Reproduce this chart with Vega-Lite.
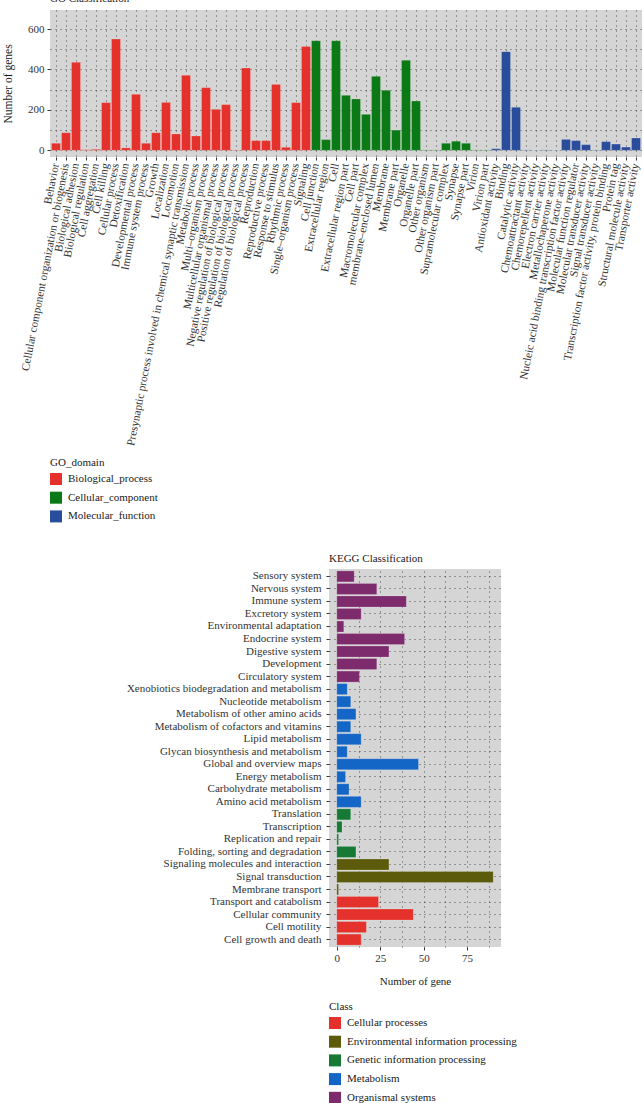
{
  "$schema": "https://vega.github.io/schema/vega-lite/v6.json",
  "padding": {"left": 2, "top": -7, "right": 0, "bottom": 0},
  "config": {
    "font": "Liberation Serif",
    "view": {"fill": "#D5D5D5", "stroke": null},
    "axis": {
      "labelFont": "Liberation Serif", "titleFont": "Liberation Serif",
      "labelColor": "#333333", "titleColor": "#1a1a1a", "titleFontWeight": "normal",
      "tickColor": "#333333", "domain": false,
      "gridColor": "#000000", "gridDash": [1, 4], "gridOpacity": 0.7, "gridWidth": 0.9
    },
    "legend": {
      "labelFont": "Liberation Serif", "titleFont": "Liberation Serif", "titleFontWeight": "normal",
      "labelFontSize": 11, "titleFontSize": 11, "labelColor": "#1a1a1a", "titleColor": "#1a1a1a",
      "symbolType": "square", "symbolSize": 144, "symbolStrokeWidth": 0,
      "rowPadding": 6.7, "titlePadding": 5, "labelOffset": 6, "labelLimit": 400
    },
    "title": {"font": "Liberation Serif", "fontWeight": "normal", "fontSize": 11, "color": "#1a1a1a", "anchor": "start", "frame": "group"}
  },
  "datasets": {
    "go": [
      {"term": "Behavior", "genes": 35, "GO_domain": "Biological_process"},
      {"term": "Cellular component organization or biogenesis", "genes": 87, "GO_domain": "Biological_process"},
      {"term": "Biological adhesion", "genes": 435, "GO_domain": "Biological_process"},
      {"term": "Biological regulation", "genes": 3, "GO_domain": "Biological_process"},
      {"term": "Cell aggregation", "genes": 5, "GO_domain": "Biological_process"},
      {"term": "Cell killing", "genes": 236, "GO_domain": "Biological_process"},
      {"term": "Cellular process", "genes": 550, "GO_domain": "Biological_process"},
      {"term": "Detoxification", "genes": 12, "GO_domain": "Biological_process"},
      {"term": "Developmental process", "genes": 277, "GO_domain": "Biological_process"},
      {"term": "Immune system process", "genes": 35, "GO_domain": "Biological_process"},
      {"term": "Growth", "genes": 87, "GO_domain": "Biological_process"},
      {"term": "Localization", "genes": 237, "GO_domain": "Biological_process"},
      {"term": "Locomotion", "genes": 81, "GO_domain": "Biological_process"},
      {"term": "Presynaptic process involved in chemical synaptic transmission", "genes": 371, "GO_domain": "Biological_process"},
      {"term": "Metabolic process", "genes": 71, "GO_domain": "Biological_process"},
      {"term": "Multi\u2013organism process", "genes": 310, "GO_domain": "Biological_process"},
      {"term": "Multicellular organismal process", "genes": 203, "GO_domain": "Biological_process"},
      {"term": "Negative regulation of biological process", "genes": 226, "GO_domain": "Biological_process"},
      {"term": "Positive regulation of biological process", "genes": 2, "GO_domain": "Biological_process"},
      {"term": "Regulation of biological process", "genes": 407, "GO_domain": "Biological_process"},
      {"term": "Reproduction", "genes": 48, "GO_domain": "Biological_process"},
      {"term": "Reproductive process", "genes": 48, "GO_domain": "Biological_process"},
      {"term": "Response to stimulus", "genes": 326, "GO_domain": "Biological_process"},
      {"term": "Rhythmic process", "genes": 15, "GO_domain": "Biological_process"},
      {"term": "Single\u2013organism process", "genes": 236, "GO_domain": "Biological_process"},
      {"term": "Signaling", "genes": 514, "GO_domain": "Biological_process"},
      {"term": "Cell junction", "genes": 542, "GO_domain": "Cellular_component"},
      {"term": "Extracellular region", "genes": 53, "GO_domain": "Cellular_component"},
      {"term": "Cell", "genes": 542, "GO_domain": "Cellular_component"},
      {"term": "Extracellular region part", "genes": 272, "GO_domain": "Cellular_component"},
      {"term": "Cell part", "genes": 254, "GO_domain": "Cellular_component"},
      {"term": "Macromolecular complex", "genes": 178, "GO_domain": "Cellular_component"},
      {"term": "membrane\u2013enclosed lumen", "genes": 366, "GO_domain": "Cellular_component"},
      {"term": "Membrane", "genes": 297, "GO_domain": "Cellular_component"},
      {"term": "Membrane part", "genes": 100, "GO_domain": "Cellular_component"},
      {"term": "Organelle", "genes": 445, "GO_domain": "Cellular_component"},
      {"term": "Organelle part", "genes": 244, "GO_domain": "Cellular_component"},
      {"term": "Other organism", "genes": 2, "GO_domain": "Cellular_component"},
      {"term": "Other organism part", "genes": 2, "GO_domain": "Cellular_component"},
      {"term": "Supramolecular complex", "genes": 35, "GO_domain": "Cellular_component"},
      {"term": "Synapse", "genes": 45, "GO_domain": "Cellular_component"},
      {"term": "Synapse part", "genes": 35, "GO_domain": "Cellular_component"},
      {"term": "Virion", "genes": 2, "GO_domain": "Cellular_component"},
      {"term": "Virion part", "genes": 2, "GO_domain": "Cellular_component"},
      {"term": "Antioxidant activity", "genes": 8, "GO_domain": "Molecular_function"},
      {"term": "Binding", "genes": 488, "GO_domain": "Molecular_function"},
      {"term": "Catalytic activity", "genes": 213, "GO_domain": "Molecular_function"},
      {"term": "Chemoattractant activity", "genes": 2, "GO_domain": "Molecular_function"},
      {"term": "Chemorepellent activity", "genes": 1, "GO_domain": "Molecular_function"},
      {"term": "Electron carrier activity", "genes": 2, "GO_domain": "Molecular_function"},
      {"term": "Metallochaperone activity", "genes": 1, "GO_domain": "Molecular_function"},
      {"term": "Nucleic acid binding transcription factor activity", "genes": 54, "GO_domain": "Molecular_function"},
      {"term": "Molecular function regulator", "genes": 48, "GO_domain": "Molecular_function"},
      {"term": "Molecular transducer activity", "genes": 28, "GO_domain": "Molecular_function"},
      {"term": "Signal transducer activity", "genes": 2, "GO_domain": "Molecular_function"},
      {"term": "Transcription factor activity, protein binding", "genes": 43, "GO_domain": "Molecular_function"},
      {"term": "Protein tag", "genes": 31, "GO_domain": "Molecular_function"},
      {"term": "Structural molecule activity", "genes": 16, "GO_domain": "Molecular_function"},
      {"term": "Transporter activity", "genes": 61, "GO_domain": "Molecular_function"}
    ],
    "kegg": [
      {"pathway": "Sensory system", "genes": 10, "Class": "Organismal systems"},
      {"pathway": "Nervous system", "genes": 23, "Class": "Organismal systems"},
      {"pathway": "Immune system", "genes": 40, "Class": "Organismal systems"},
      {"pathway": "Excretory system", "genes": 14, "Class": "Organismal systems"},
      {"pathway": "Environmental adaptation", "genes": 4, "Class": "Organismal systems"},
      {"pathway": "Endocrine system", "genes": 39, "Class": "Organismal systems"},
      {"pathway": "Digestive system", "genes": 30, "Class": "Organismal systems"},
      {"pathway": "Development", "genes": 23, "Class": "Organismal systems"},
      {"pathway": "Circulatory system", "genes": 13, "Class": "Organismal systems"},
      {"pathway": "Xenobiotics biodegradation and metabolism", "genes": 6, "Class": "Metabolism"},
      {"pathway": "Nucleotide metabolism", "genes": 8, "Class": "Metabolism"},
      {"pathway": "Metabolism of other amino acids", "genes": 11, "Class": "Metabolism"},
      {"pathway": "Metabolism of cofactors and vitamins", "genes": 8, "Class": "Metabolism"},
      {"pathway": "Lipid metabolism", "genes": 14, "Class": "Metabolism"},
      {"pathway": "Glycan biosynthesis and metabolism", "genes": 6, "Class": "Metabolism"},
      {"pathway": "Global and overview maps", "genes": 47, "Class": "Metabolism"},
      {"pathway": "Energy metabolism", "genes": 5, "Class": "Metabolism"},
      {"pathway": "Carbohydrate metabolism", "genes": 7, "Class": "Metabolism"},
      {"pathway": "Amino acid metabolism", "genes": 14, "Class": "Metabolism"},
      {"pathway": "Translation", "genes": 8, "Class": "Genetic information processing"},
      {"pathway": "Transcription", "genes": 3, "Class": "Genetic information processing"},
      {"pathway": "Replication and repair", "genes": 1, "Class": "Genetic information processing"},
      {"pathway": "Folding, sorting and degradation", "genes": 11, "Class": "Genetic information processing"},
      {"pathway": "Signaling molecules and interaction", "genes": 30, "Class": "Environmental information processing"},
      {"pathway": "Signal transduction", "genes": 90, "Class": "Environmental information processing"},
      {"pathway": "Membrane transport", "genes": 1, "Class": "Environmental information processing"},
      {"pathway": "Transport and catabolism", "genes": 24, "Class": "Cellular processes"},
      {"pathway": "Cellular community", "genes": 44, "Class": "Cellular processes"},
      {"pathway": "Cell motility", "genes": 17, "Class": "Cellular processes"},
      {"pathway": "Cell growth and death", "genes": 14, "Class": "Cellular processes"}
    ]
  },
  "columns": 1,
  "spacing": 30,
  "resolve": {"scale": {"color": "independent"}, "legend": {"color": "independent"}},
  "concat": [
    {
      "data": {"name": "go"},
      "width": 592,
      "height": 147,
      "title": {"text": "GO Classification", "offset": 6},
      "mark": {"type": "bar", "stroke": "#ffffff", "strokeOpacity": 0.3, "strokeWidth": 0.6},
      "encoding": {
        "x": {
          "field": "term", "type": "nominal", "sort": null,
          "scale": {"paddingInner": 0.1, "paddingOuter": 0.15},
          "axis": {"title": null, "labelAngle": -79, "labelFontSize": 11.3, "labelLimit": 500, "tickSize": 3, "labelPadding": 3, "grid": true}
        },
        "y": {
          "field": "genes", "type": "quantitative",
          "scale": {"domain": [-33, 694], "nice": false, "zero": false},
          "axis": {
            "title": "Number of genes", "titleFontSize": 11.5, "titlePadding": 14,
            "values": [0, 100, 200, 300, 400, 500, 600],
            "labelExpr": "datum.value % 200 === 0 ? datum.label : ''",
            "labelFontSize": 11, "tickSize": 3, "labelPadding": 3,
            "tickOpacity": {"condition": {"test": "datum.value % 200 !== 0", "value": 0}, "value": 1}
          }
        },
        "color": {
          "field": "GO_domain", "type": "nominal",
          "scale": {"domain": ["Biological_process", "Cellular_component", "Molecular_function"], "range": ["#E4312B", "#0B7A16", "#2A4D9B"]},
          "legend": {"title": "GO_domain", "orient": "bottom", "direction": "vertical", "offset": 10}
        }
      }
    },
    {
      "spacing": 0,
      "resolve": {"scale": {"color": "independent"}, "legend": {"color": "independent"}},
      "hconcat": [
        {
          "width": 64,
          "height": 10,
          "view": {"fill": null, "stroke": null},
          "data": {"values": []},
          "mark": {"type": "text"},
          "encoding": {}
        },
        {
          "data": {"name": "kegg"},
          "width": 172,
          "height": 378,
          "title": {"text": "KEGG Classification", "offset": 5},
          "mark": {"type": "bar", "stroke": "#ffffff", "strokeOpacity": 0.3, "strokeWidth": 0.6},
          "encoding": {
            "y": {
              "field": "pathway", "type": "nominal", "sort": null,
              "scale": {"paddingInner": 0.12, "paddingOuter": 0.15},
              "axis": {"title": null, "labelFontSize": 11, "labelLimit": 400, "tickSize": 3, "labelPadding": 5, "grid": true, "minExtent": 215, "maxExtent": 215}
            },
            "x": {
              "field": "genes", "type": "quantitative",
              "scale": {"domain": [-4.5, 94.5], "nice": false, "zero": false},
              "axis": {
                "title": "Number of gene", "titleFontSize": 11, "titlePadding": 12,
                "values": [0, 12.5, 25, 37.5, 50, 62.5, 75, 87.5],
                "labelExpr": "datum.value % 25 === 0 ? datum.label : ''",
                "labelFontSize": 11, "tickSize": 3, "labelPadding": 2,
                "tickOpacity": {"condition": {"test": "datum.value % 25 !== 0", "value": 0}, "value": 1}
              }
            },
            "color": {
              "field": "Class", "type": "nominal",
              "scale": {"domain": ["Cellular processes", "Environmental information processing", "Genetic information processing", "Metabolism", "Organismal systems"], "range": ["#E4312B", "#5B5B0B", "#167A35", "#1466C6", "#7E2B6E"]},
              "legend": {"title": "Class", "orient": "bottom", "direction": "vertical", "offset": 15}
            }
          }
        }
      ]
    }
  ]
}
